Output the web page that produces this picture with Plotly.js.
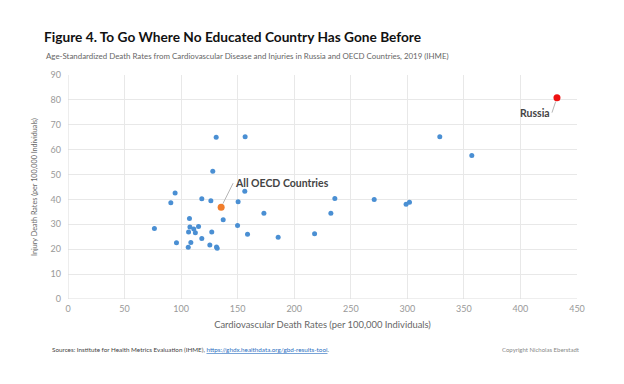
<!DOCTYPE html>
<html>
<head>
<meta charset="utf-8">
<script src="https://cdn.plot.ly/plotly-3.0.1.min.js"></script>
<style>html,body{margin:0;padding:0;background:#fff;}#chart{width:624px;height:384px;}</style>
</head>
<body>
<div id="chart"></div>
<script>
// OECD member countries (cardiovascular, injury death rates per 100,000)
const oecdCardio = [131.0,156.6,128.0,94.7,90.9,118.3,126.3,150.4,156.3,173.2,137.2,149.9,158.7,185.8,76.4,107.4,107.8,115.4,111.2,112.6,106.6,127.1,118.3,95.9,108.6,106.3,125.4,131.3,131.9,328.7,357.0,218.0,232.4,235.9,270.7,298.9,301.9];
const oecdInjury = [65.0,65.2,51.3,42.6,38.7,40.3,39.5,39.1,43.3,34.5,31.8,29.5,26.0,24.8,28.3,32.3,28.9,29.1,28.1,26.6,26.9,26.9,24.3,22.6,22.7,20.8,21.7,20.9,20.4,65.2,57.7,26.2,34.5,40.4,40.0,38.1,38.9];
const avgLabel = ["All OECD Countries"];
const avgCardio = [135.4];
const avgInjury = [36.9];
const russiaLabel = ["Russia"];
const russiaCardio = [432.3];
const russiaInjury = [80.9];
const xTicks = [0,50,100,150,200,250,300,350,400,450];
const yTicks = [0,10,20,30,40,50,60,70,80,90];

const FONT = "Lato, 'Open Sans', sans-serif";

const traces = [
  {x: oecdCardio, y: oecdInjury, type: 'scatter', mode: 'markers',
   marker: {color: '#4a8fd3', size: 5}, hoverinfo: 'x+y'},
  {x: avgCardio, y: avgInjury, type: 'scatter', mode: 'markers',
   marker: {color: '#f07d2c', size: 7}, text: avgLabel},
  {x: russiaCardio, y: russiaInjury, type: 'scatter', mode: 'markers',
   marker: {color: '#ee1111', size: 7}, text: russiaLabel}
];

const layout = {
  width: 624, height: 384,
  margin: {l: 68, r: 47, t: 75, b: 85},
  paper_bgcolor: '#fff', plot_bgcolor: '#fff',
  showlegend: false,
  font: {family: FONT, color: '#888', size: 9},
  title: {
    text: '<b>Figure 4. To Go Where No Educated Country Has Gone Before</b>',
    font: {family: FONT, size: 13.7, color: '#111'},
    xref: 'container', yref: 'container',
    x: 44/624, xanchor: 'left', y: 1 - 37/384, yanchor: 'middle'
  },
  xaxis: {
    range: [0, 450], tickvals: xTicks, showgrid: true, gridcolor: '#e8e8e8', gridwidth: 1,
    zeroline: false, showline: false, ticks: '', ticklabelstandoff: 3,
    tickfont: {family: FONT, size: 9, color: '#999'},
    title: {text: 'Cardiovascular Death Rates (per 100,000 Individuals)', standoff: 8,
            font: {family: FONT, size: 9.4, color: '#666'}}
  },
  yaxis: {
    range: [0, 90], tickvals: yTicks, showgrid: true, gridcolor: '#e8e8e8', gridwidth: 1,
    zeroline: false, showline: false, ticks: '', ticklabelstandoff: 6,
    tickfont: {family: FONT, size: 9, color: '#999'},
    title: {text: 'Injury Death Rates (per 100,000 Individuals)', standoff: 12,
            font: {family: FONT, size: 7.2, color: '#666'}}
  },
  shapes: [
    {type: 'line', xref: 'x', yref: 'paper', x0: 0, x1: 0, y0: 0, y1: 1, line: {color: '#dcdcdc', width: 1}},
    {type: 'line', xref: 'paper', yref: 'y', x0: 0, x1: 1, y0: 0, y1: 0, line: {color: '#dcdcdc', width: 1}}
  ],
  annotations: [
    {xref: 'paper', yref: 'paper', x: (44-68)/509, y: (299-56)/224, xanchor: 'left', yanchor: 'middle',
     showarrow: false, text: 'Age-Standardized Death Rates from Cardiovascular Disease and Injuries in Russia and OECD Countries, 2019 (IHME)',
     font: {family: FONT, size: 7.9, color: '#666'}},
    {x: avgCardio[0], y: avgInjury[0], xref: 'x', yref: 'y', text: '<b>' + avgLabel[0] + '</b>',
     showarrow: true, arrowhead: 0, arrowwidth: 1, arrowcolor: '#b5b5b5', ax: 12, ay: -24,
     xanchor: 'left', yanchor: 'middle', standoff: 4,
     font: {family: FONT, size: 10.5, color: '#444'}},
    {x: russiaCardio[0], y: russiaInjury[0], xref: 'x', yref: 'y', text: '<b>' + russiaLabel[0] + '</b>',
     showarrow: true, arrowhead: 0, arrowwidth: 1, arrowcolor: '#b5b5b5', ax: -5, ay: 15,
     xanchor: 'right', yanchor: 'middle', standoff: 4,
     font: {family: FONT, size: 10.5, color: '#444'}},
    {xref: 'paper', yref: 'paper', x: (50-68)/509, y: (299-349)/224, xanchor: 'left', yanchor: 'middle',
     showarrow: false,
     text: 'Sources: Institute for Health Metrics Evaluation (IHME), <a href="https://ghdx.healthdata.org/gbd-results-tool" style="color:#2a6fbf;text-decoration:underline">https://ghdx.healthdata.org/gbd-results-tool</a>.',
     font: {family: FONT, size: 6.3, color: '#444'}},
    {xref: 'paper', yref: 'paper', x: (582-68)/509, y: (299-349)/224, xanchor: 'right', yanchor: 'middle',
     showarrow: false, text: 'Copyright Nicholas Eberstadt',
     font: {family: FONT, size: 6, color: '#888'}}
  ]
};

Plotly.newPlot('chart', traces, layout, {displayModeBar: false, staticPlot: true});
</script>
</body>
</html>
